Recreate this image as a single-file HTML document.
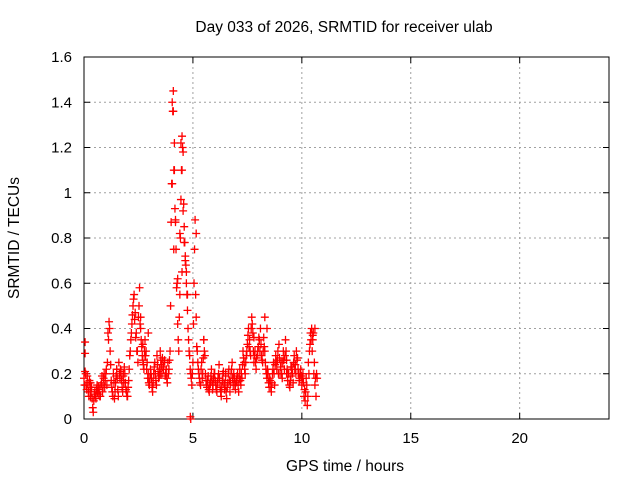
<!DOCTYPE html>
<html><head><meta charset="utf-8"><style>
body{margin:0;background:#fff}
svg{display:block;font-family:"Liberation Sans",sans-serif}
</style></head><body>
<svg id="chart" width="640" height="480" viewBox="0 0 640 480">
<rect width="640" height="480" fill="#fff"/>
<g id="grid"></g>
<g id="axes"></g>
<g id="marks"></g>
<text x="344" y="32" font-size="15.5" text-anchor="middle">Day 033 of 2026, SRMTID for receiver ulab</text>
<text x="345" y="471" font-size="15.5" text-anchor="middle">GPS time / hours</text>
<text x="19" y="238" font-size="15.5" text-anchor="middle" transform="rotate(-90 19 238)">SRMTID / TECUs</text>
</svg>
<script>
const xTicks=[0,5,10,15,20];
const yTicks=[0,0.2,0.4,0.6,0.8,1,1.2,1.4,1.6];
const yTickLabels=["0","0.2","0.4","0.6","0.8","1","1.2","1.4","1.6"];
const startHour=0, stepHour=0.05;
const mainValues=[
0.18,0.21,0.15,0.19,0.12,0.17,0.1,0.14,0.05,0.08,0.12,0.09,0.15,0.11,0.13,0.1,0.16,0.12,0.18,0.14,
0.2,0.15,0.38,0.43,0.3,0.17,0.12,0.2,0.09,0.16,0.22,0.13,0.25,0.18,0.21,0.14,0.19,0.23,0.16,0.12,
0.1,0.17,0.28,0.35,0.42,0.5,0.55,0.47,0.38,0.3,0.45,0.58,0.4,0.32,0.26,0.22,0.35,0.3,0.25,0.2,
0.15,0.22,0.18,0.12,0.2,0.25,0.17,0.28,0.21,0.19,0.3,0.24,0.27,0.22,0.26,0.2,0.18,0.25,0.22,0.3,
0.87,1.4,1.45,1.22,0.88,0.58,0.42,0.3,0.55,0.97,1.25,1.18,0.85,0.72,0.65,0.48,0.35,0.28,0.2,0.15,
0.25,0.6,0.88,0.45,0.3,0.22,0.18,0.15,0.25,0.2,0.35,0.28,0.17,0.14,0.19,0.12,0.16,0.22,0.13,0.18,
0.2,0.15,0.12,0.18,0.24,0.14,0.1,0.17,0.21,0.13,0.19,0.09,0.16,0.22,0.12,0.2,0.25,0.15,0.18,0.13,
0.17,0.2,0.12,0.22,0.15,0.18,0.3,0.25,0.2,0.28,0.33,0.4,0.35,0.28,0.45,0.38,0.25,0.3,0.22,0.28,
0.32,0.35,0.4,0.28,0.25,0.36,0.3,0.22,0.18,0.2,0.14,0.17,0.12,0.2,0.25,0.15,0.28,0.22,0.3,0.33,
0.2,0.25,0.18,0.3,0.22,0.35,0.26,0.17,0.2,0.14,0.19,0.23,0.16,0.28,0.24,0.3,0.27,0.2,0.18,0.22,
0.15,0.2,0.1,0.08,0.18,0.06,0.25,0.3,0.38,0.4,0.35,0.2,0.15,0.1,0.18];
const midValues=[
0.15,0.2,0.13,0.16,0.1,0.14,0.12,0.09,0.03,0.11,0.1,0.13,0.12,0.14,0.1,0.15,0.19,0.14,0.2,0.17,
0.22,0.25,0.35,0.4,0.24,0.14,0.1,0.16,0.12,0.19,0.18,0.1,0.2,0.22,0.17,0.12,0.16,0.2,0.13,0.1,
0.14,0.22,0.3,0.38,0.46,0.53,0.44,0.36,0.3,0.25,0.5,0.42,0.35,0.28,0.24,0.3,0.28,0.22,0.18,0.16,
0.18,0.2,0.14,0.16,0.23,0.2,0.15,0.24,0.18,0.22,0.26,0.2,0.23,0.25,0.19,0.22,0.16,0.2,0.26,0.5,
1.04,1.36,1.1,0.93,0.75,0.6,0.35,0.45,0.8,1.1,1.2,0.95,0.78,0.68,0.55,0.4,0.3,0.22,0.18,0.2,
0.42,0.75,0.55,0.32,0.25,0.2,0.16,0.22,0.18,0.27,0.3,0.2,0.15,0.17,0.13,0.15,0.19,0.17,0.15,0.2,
0.17,0.13,0.16,0.2,0.18,0.12,0.14,0.2,0.16,0.15,0.12,0.14,0.2,0.17,0.16,0.22,0.18,0.2,0.15,0.16,
0.19,0.15,0.18,0.17,0.2,0.24,0.27,0.22,0.25,0.3,0.37,0.32,0.3,0.4,0.42,0.3,0.28,0.25,0.27,0.3,
0.36,0.3,0.33,0.26,0.3,0.32,0.25,0.2,0.22,0.16,0.18,0.14,0.16,0.22,0.2,0.24,0.25,0.26,0.2,0.27,
0.23,0.2,0.25,0.26,0.28,0.3,0.22,0.2,0.15,0.17,0.22,0.2,0.25,0.22,0.2,0.26,0.22,0.17,0.2,0.19,
0.18,0.16,0.13,0.12,0.15,0.1,0.2,0.33,0.35,0.3,0.38,0.25,0.18,0.2];
const extraTimes=[4.1,4.05,4.15,4.45,4.5,4.4,4.55,4.6,4.12,4.2,4.3,4.5,4.9,4.88,0.05,0.05,2.95,2.6,5.15,5.5,8.3,8.4,10.5,10.6,1.5,1.8,3.5,6.5,9.5,0.3,0.6,4.7,4.65,4.75,2.7,2.8,7.8,9.3];
const extraValues=[1.36,1.04,1.1,1.22,1.1,0.82,0.92,0.78,0.75,0.87,0.62,0.65,0.0,0.01,0.34,0.29,0.38,0.45,0.82,0.35,0.45,0.4,0.37,0.4,0.22,0.2,0.2,0.2,0.23,0.16,0.14,0.6,0.7,0.55,0.33,0.28,0.36,0.2];

const L=84,R=609,T=57,B=419,xMax=24.1,yMax=1.6;
const xs=v=>L+v/xMax*(R-L);
const ys=v=>B-v/yMax*(B-T);
const NS="http://www.w3.org/2000/svg";
function mk(tag,attrs,parent){const e=document.createElementNS(NS,tag);for(const k in attrs)e.setAttribute(k,attrs[k]);parent.appendChild(e);return e;}
const grid=document.getElementById('grid'),axes=document.getElementById('axes'),marks=document.getElementById('marks');
yTicks.forEach((v,i)=>{const y=ys(v);
 if(i>0&&i<yTicks.length-1){const g=mk('line',{x1:L,x2:R,y1:y,y2:y,stroke:'#a0a0a0','stroke-dasharray':'2,3'},grid);
 
 }
 mk('line',{x1:L,x2:L+6,y1:y,y2:y,stroke:'#000'},axes);
 mk('line',{x1:R,x2:R-6,y1:y,y2:y,stroke:'#000'},axes);
 const t=mk('text',{x:L-12,y:y+5,'font-size':15,'text-anchor':'end'},axes);t.textContent=yTickLabels[i];
 
 
});
xTicks.forEach(v=>{const x=xs(v);
 if(v>0){const g=mk('line',{x1:x,x2:x,y1:T,y2:B,stroke:'#a0a0a0','stroke-dasharray':'2,3'},grid);
 
 }
 mk('line',{x1:x,x2:x,y1:B,y2:B-6,stroke:'#000'},axes);
 mk('line',{x1:x,x2:x,y1:T,y2:T+6,stroke:'#000'},axes);
 const t=mk('text',{x:x,y:B+24,'font-size':15,'text-anchor':'middle'},axes);t.textContent=v;
 
 
});
const fr=mk('rect',{x:L,y:T,width:R-L,height:B-T,fill:'none',stroke:'#000'},axes);


function plus(t,v){const x=xs(t),y=ys(v);
 const p=mk('path',{d:`M${x-4},${y}H${x+4}M${x},${y-4}V${y+4}`,stroke:'#f00','stroke-width':1.3,fill:'none'},marks);
 
 }
mainValues.forEach((v,i)=>plus(startHour+i*stepHour,v));
midValues.forEach((v,i)=>plus(startHour+stepHour/2+i*stepHour,v));
extraTimes.forEach((t,i)=>plus(t,extraValues[i]));
</script>
</body></html>
